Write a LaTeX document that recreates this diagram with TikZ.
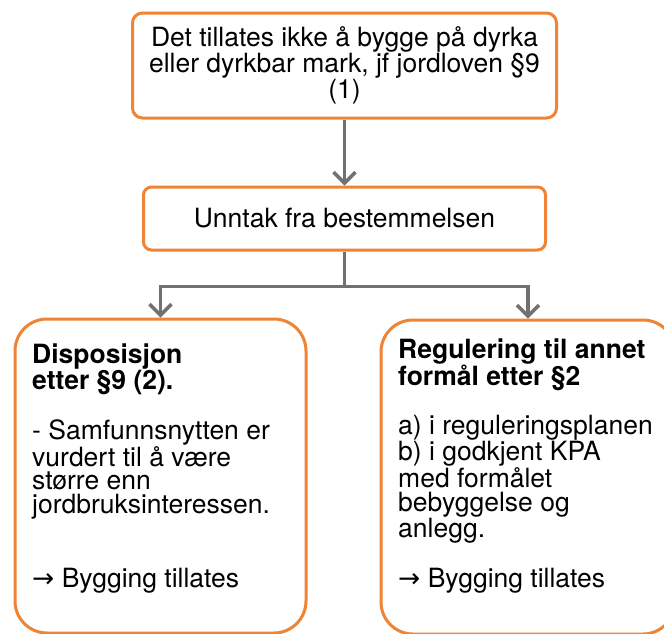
\documentclass[tikz,border=0pt]{standalone}
\usepackage{fontspec}
\setmainfont{TeX Gyre Heros}
\newfontfamily\arrowfont{DejaVu Sans}
\usetikzlibrary{arrows.meta,calc}
\definecolor{boxorange}{HTML}{EE8434}
\definecolor{linkgray}{HTML}{717171}
\tikzset{
  box/.style={draw=boxorange, line width=3pt, fill=white, inner sep=0pt},
  conn/.style={draw=linkgray, line width=3.5pt, -{Straight Barb[length=11pt,width=22pt]}},
  txt/.style={font=\fontsize{26.5}{23.7}\selectfont, inner sep=0pt},
}
\begin{document}
\begin{tikzpicture}[x=1pt, y=-1pt]
  \fill[white] (0,0) rectangle (664,633);
  \clip (0,0) rectangle (664,633);
  %% ── Boxes ─────────────────────────────────────────────────
  \node[box, txt, rounded corners=10pt, minimum width=424pt, minimum height=105pt, align=center]
    (forbud) at (344.5,65.5) {Det tillates ikke å bygge på dyrka\\eller dyrkbar mark, jf jordloven §9\\(1)};
  \node[box, txt, rounded corners=8pt, minimum width=402pt, minimum height=63pt]
    (unntak) at (344.5,218.5) {Unntak fra bestemmelsen};
  \node[box, rounded corners=32pt, minimum width=291pt, minimum height=314pt] (disp) at (160.5,476) {};
  \node[box, rounded corners=32pt, minimum width=294pt, minimum height=314pt] (regul) at (528,477) {};
  %% ── Box texts (anchored at the last line) ─────────────────
  \node[txt, anchor=base west, align=left] (disptxt) at (32,587)
    {\textbf{Disposisjon}\\\textbf{etter §9 (2).}\\[23.7pt]
     - Samfunnsnytten er\\vurdert til å være\\større enn\\jordbruksinteressen.\\[47.4pt]
     {\arrowfont →} Bygging tillates};
  \node[txt, anchor=base west, align=left] (regultxt) at (398,587)
    {\textbf{Regulering til annet}\\\textbf{formål etter §2}\\[23.7pt]
     a) i reguleringsplanen\\b) i godkjent KPA\\med formålet\\bebyggelse og\\anlegg.\\[23.7pt]
     {\arrowfont →} Bygging tillates};
  %% ── Connectors ────────────────────────────────────────────
  \coordinate (split) at ($(unntak.south)+(0,35)$);
  \draw[conn] (forbud.south) -- (unntak.north);
  \draw[linkgray, line width=3.5pt] (unntak.south) -- (split);
  \foreach \b in {disp,regul}{
    \draw[conn] (split) -| (\b.north);
  }
\end{tikzpicture}
\end{document}
